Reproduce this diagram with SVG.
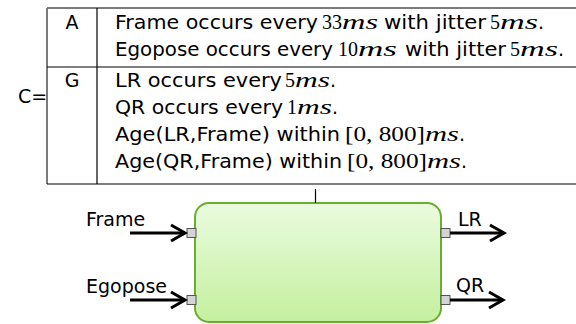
<svg xmlns="http://www.w3.org/2000/svg" width="576" height="324" viewBox="0 0 576 324">
  <defs>
    <linearGradient id="blockFill" x1="0" y1="0" x2="0" y2="1">
      <stop offset="0" stop-color="#eafbdf"/>
      <stop offset="1" stop-color="#c4f09e"/>
    </linearGradient>
    <marker id="chevron" viewBox="-16 -10 20 20" refX="0" refY="0" markerWidth="20" markerHeight="20" markerUnits="userSpaceOnUse" orient="auto">
      <path d="M-14,-8 L0,0 L-14,8" fill="none" stroke="#000" stroke-width="3"/>
    </marker>
    <style>
      .sans { font-family: "DejaVu Sans", sans-serif; font-size: 19px; fill: #000; }
      .num { font-family: "Liberation Serif", serif; font-size: 21px; }
      .var { font-family: "Liberation Serif", serif; font-size: 21px; font-style: italic; }
      .rule { stroke: #000; stroke-width: 1.2; }
      .frame { stroke: #7a7a7a; stroke-width: 2; }
      .port { fill: #d4d4d4; stroke: #555; stroke-width: 1; }
      .flow { fill: none; stroke: #000; stroke-width: 3; marker-end: url(#chevron); }
    </style>
  </defs>

  <!-- contract table C = (A, G) -->
  <g id="contract">
    <text class="sans" x="18" y="103">C=</text>
    <line class="frame" x1="47" y1="8" x2="576" y2="8"/>
    <line class="frame" x1="47" y1="8" x2="47" y2="184"/>
    <line class="rule" x1="97" y1="8" x2="97" y2="184"/>
    <line class="rule" x1="47" y1="67" x2="576" y2="67"/>
    <line class="rule" x1="47" y1="184" x2="576" y2="184"/>

    <text class="sans" x="72" y="29" text-anchor="middle">A</text>
    <text class="sans" x="72" y="87" text-anchor="middle">G</text>

    <text class="sans" y="29"><tspan x="115" textLength="203" lengthAdjust="spacingAndGlyphs">Frame occurs every</tspan><tspan class="num" x="322" textLength="20" lengthAdjust="spacingAndGlyphs">33</tspan><tspan class="var" textLength="36" lengthAdjust="spacingAndGlyphs">ms</tspan><tspan x="384" textLength="102" lengthAdjust="spacingAndGlyphs">with jitter</tspan><tspan class="num" x="490" textLength="10" lengthAdjust="spacingAndGlyphs">5</tspan><tspan class="var" textLength="38" lengthAdjust="spacingAndGlyphs">ms</tspan>.</text>
    <text class="sans" y="56"><tspan x="115" textLength="218" lengthAdjust="spacingAndGlyphs">Egopose occurs every</tspan><tspan class="num" x="338" textLength="20" lengthAdjust="spacingAndGlyphs">10</tspan><tspan class="var" textLength="39" lengthAdjust="spacingAndGlyphs">ms</tspan><tspan x="405" textLength="101" lengthAdjust="spacingAndGlyphs">with jitter</tspan><tspan class="num" x="510" textLength="10" lengthAdjust="spacingAndGlyphs">5</tspan><tspan class="var" textLength="38" lengthAdjust="spacingAndGlyphs">ms</tspan>.</text>
    <text class="sans" y="87"><tspan x="115" textLength="167" lengthAdjust="spacingAndGlyphs">LR occurs every</tspan><tspan class="num" x="285" textLength="10" lengthAdjust="spacingAndGlyphs">5</tspan><tspan class="var" textLength="35" lengthAdjust="spacingAndGlyphs">ms</tspan>.</text>
    <text class="sans" y="114"><tspan x="115" textLength="168" lengthAdjust="spacingAndGlyphs">QR occurs every</tspan><tspan class="num" x="287" textLength="10" lengthAdjust="spacingAndGlyphs">1</tspan><tspan class="var" textLength="35" lengthAdjust="spacingAndGlyphs">ms</tspan>.</text>
    <text class="sans" y="141"><tspan x="115" textLength="225" lengthAdjust="spacingAndGlyphs">Age(LR,Frame) within</tspan><tspan class="num" x="345" textLength="80" lengthAdjust="spacingAndGlyphs">[0, 800]</tspan><tspan class="var" textLength="34" lengthAdjust="spacingAndGlyphs">ms</tspan>.</text>
    <text class="sans" y="168"><tspan x="115" textLength="227" lengthAdjust="spacingAndGlyphs">Age(QR,Frame) within</tspan><tspan class="num" x="347" textLength="80" lengthAdjust="spacingAndGlyphs">[0, 800]</tspan><tspan class="var" textLength="34" lengthAdjust="spacingAndGlyphs">ms</tspan>.</text>
  </g>

  <!-- component block with its ports -->
  <g id="component">
    <rect x="195" y="203" width="246" height="119" rx="14" ry="14" fill="url(#blockFill)" stroke="#6aad30" stroke-width="2"/>
    <rect class="port" x="187" y="228.5" width="9" height="9"/>
    <rect class="port" x="187" y="295.5" width="9" height="9"/>
    <rect class="port" x="441" y="228.5" width="9" height="9"/>
    <rect class="port" x="441" y="295.5" width="9" height="9"/>
  </g>

  <g id="label-frame"><text class="sans" x="86" y="226">Frame</text></g>
  <g id="label-egopose"><text class="sans" x="86" y="293">Egopose</text></g>
  <g id="label-lr"><text class="sans" x="458" y="226">LR</text></g>
  <g id="label-qr"><text class="sans" x="456" y="292">QR</text></g>

  <!-- connectors -->
  <g id="connectors">
    <line x1="315.5" y1="189" x2="315.5" y2="203" stroke="#000" stroke-width="1.2"/>
    <line class="flow" x1="130" y1="233" x2="185" y2="233"/>
    <line class="flow" x1="130" y1="300" x2="185" y2="300"/>
    <line class="flow" x1="450" y1="233" x2="504" y2="233"/>
    <line class="flow" x1="450" y1="300" x2="503" y2="300"/>
  </g>
</svg>
